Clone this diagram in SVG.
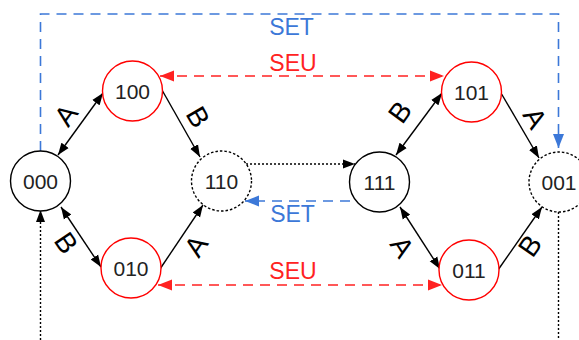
<svg xmlns="http://www.w3.org/2000/svg" width="579" height="340" viewBox="0 0 579 340">
<style>
.n{fill:#fff;stroke-width:1.4}
.k{stroke:#000}
.r{stroke:#f00}
.d{stroke:#000;stroke-dasharray:2.5,2}
.t{font-family:"Liberation Sans",Arial,sans-serif;font-size:21px;fill:#222;text-anchor:middle}
.e{fill:none;stroke:#000;stroke-width:1.4}
.dot{fill:none;stroke:#000;stroke-width:1.4;stroke-dasharray:2,2}
.red{fill:none;stroke:#f22;stroke-width:1.6;stroke-dasharray:10,7}
.blue{fill:none;stroke:#3c78d8;stroke-width:1.6;stroke-dasharray:10,7}
.lab{font-family:"Liberation Sans",Arial,sans-serif;font-size:28px;fill:#000;text-anchor:middle;dominant-baseline:central}
.lr{font-family:"Liberation Sans",Arial,sans-serif;font-size:23px;fill:#f22;text-anchor:middle}
.lb{font-family:"Liberation Sans",Arial,sans-serif;font-size:23px;fill:#3c78d8;text-anchor:middle}
</style>
<defs>
<marker id="ak" markerUnits="userSpaceOnUse" markerWidth="12" markerHeight="10" refX="12" refY="5" orient="auto-start-reverse"><path d="M0,0.5 L12,5 L0,9.5 z" fill="#000"/></marker>
<marker id="ar" markerUnits="userSpaceOnUse" markerWidth="14" markerHeight="12" refX="14" refY="6" orient="auto-start-reverse"><path d="M0,0.5 L14,6 L0,11.5 z" fill="#f22"/></marker>
<marker id="ab" markerUnits="userSpaceOnUse" markerWidth="14" markerHeight="12" refX="14" refY="6" orient="auto-start-reverse"><path d="M0,0.5 L14,6 L0,11.5 z" fill="#3c78d8"/></marker>
</defs>
<g id="connectors">
<path class="blue" d="M40.5,151 V14 H558.5 V148" marker-end="url(#ab)"/>
<path class="red" d="M160,76 H444" marker-start="url(#ar)" marker-end="url(#ar)"/>
<path class="red" d="M158,285 H442" marker-start="url(#ar)" marker-end="url(#ar)"/>
<path class="e" d="M58,155 L103,93" marker-start="url(#ak)" marker-end="url(#ak)"/>
<path class="e" d="M162,90 L200,157" marker-end="url(#ak)"/>
<path class="e" d="M61,207 L101,267" marker-start="url(#ak)" marker-end="url(#ak)"/>
<path class="e" d="M160,269 L203,205" marker-end="url(#ak)"/>
<path class="dot" d="M246,164 H355" marker-end="url(#ak)"/>
<path class="blue" d="M350,201 H245" marker-end="url(#ab)"/>
<path class="e" d="M396,155 L442,93" marker-start="url(#ak)" marker-end="url(#ak)"/>
<path class="e" d="M501,93 L539,158" marker-end="url(#ak)"/>
<path class="e" d="M400,207 L440,269" marker-start="url(#ak)" marker-end="url(#ak)"/>
<path class="e" d="M498,270 L542,207" marker-end="url(#ak)"/>
<path class="dot" d="M40.5,340 V210" marker-end="url(#ak)"/>
<path class="dot" d="M558.5,212 V340"/>
<text class="lb" x="291.5" y="35">SET</text>
<text class="lr" x="293" y="71">SEU</text>
<text class="lr" x="293" y="279">SEU</text>
<text class="lb" x="292.5" y="222">SET</text>
<text class="lab" transform="rotate(-54 66 115)" x="66" y="115">A</text>
<text class="lab" transform="rotate(60 198 117)" x="198" y="117">B</text>
<text class="lab" transform="rotate(56 66 243)" x="66" y="243">B</text>
<text class="lab" transform="rotate(-56 196 246)" x="196" y="246">A</text>
<text class="lab" transform="rotate(-54 400 112)" x="400" y="112">B</text>
<text class="lab" transform="rotate(60 535 118)" x="535" y="118">A</text>
<text class="lab" transform="rotate(57 402 247)" x="402" y="247">A</text>
<text class="lab" transform="rotate(-55 530 246)" x="530" y="246">B</text>
</g>
<g id="n000"><circle class="n k" cx="40.5" cy="181" r="30"/><text class="t" x="40.5" y="188.5">000</text></g>
<g id="n100"><circle class="n r" cx="132.5" cy="91" r="30"/><text class="t" x="132.5" y="98.5">100</text></g>
<g id="n010"><circle class="n r" cx="131" cy="268" r="30"/><text class="t" x="131" y="275.5">010</text></g>
<g id="n110"><circle class="n d" cx="221.5" cy="181" r="30"/><text class="t" x="221.5" y="188.5">110</text></g>
<g id="n111"><circle class="n k" cx="379.5" cy="182" r="30"/><text class="t" x="379.5" y="189.5">111</text></g>
<g id="n101"><circle class="n r" cx="471.5" cy="92" r="30"/><text class="t" x="471.5" y="99.5">101</text></g>
<g id="n011"><circle class="n r" cx="469" cy="270" r="30"/><text class="t" x="469" y="277.5">011</text></g>
<g id="n001"><circle class="n d" cx="559" cy="182" r="30"/><text class="t" x="559" y="189.5">001</text></g>
</svg>
